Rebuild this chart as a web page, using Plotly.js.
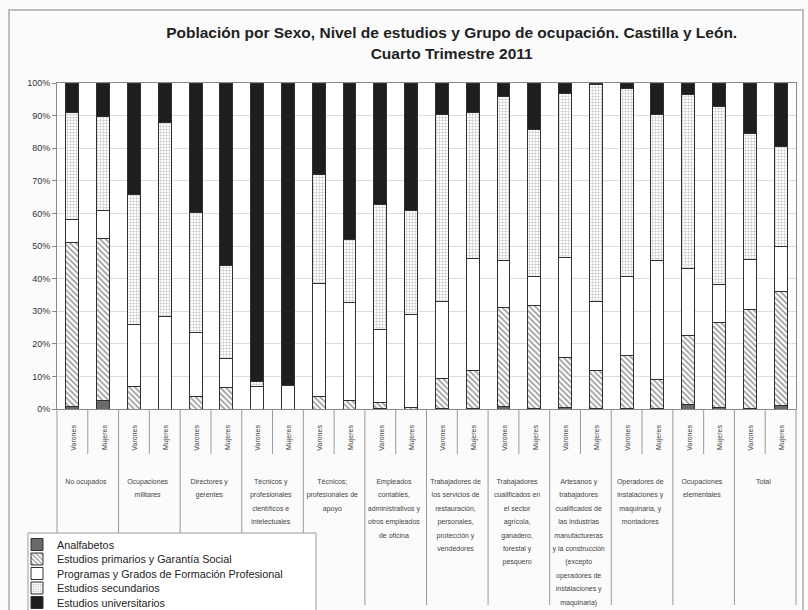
<!DOCTYPE html>
<html>
<head>
<meta charset="utf-8">
<script src="https://cdn.plot.ly/plotly-3.0.1.min.js"></script>
<style>
html,body{margin:0;padding:0;background:#fbfbfb;}
#chart{width:808px;height:610px;}
#frame{position:absolute;left:8px;top:9px;width:792px;height:620px;border:2px solid #bdbdbd;pointer-events:none;}
</style>
</head>
<body>
<div id="chart"></div>
<div id="frame"></div>
<script>
const groups = [
  ["No ocupados"],
  ["Ocupaciones", "militares"],
  ["Directores y", "gerentes"],
  ["Técnicos y", "profesionales", "científicos e", "intelectuales"],
  ["Técnicos;", "profesionales de", "apoyo"],
  ["Empleados", "contables,", "administrativos y", "otros empleados", "de oficina"],
  ["Trabajadores de", "los servicios de", "restauración,", "personales,", "protección y", "vendedores"],
  ["Trabajadores", "cualificados en", "el sector", "agrícola,", "ganadero,", "forestal y", "pesquero"],
  ["Artesanos y", "trabajadores", "cualificados de", "las industrias", "manufactureras", "y la construcción", "(excepto", "operadores de", "instalaciones y", "maquinaria)"],
  ["Operadores de", "instalaciones y", "maquinaria, y", "montadores"],
  ["Ocupaciones", "elementales"],
  ["Total"]
];
const sexes = ["Varones", "Mujeres"];

const seriesNames = [
  "Analfabetos",
  "Estudios primarios y Garantía Social",
  "Programas y Grados de Formación Profesional",
  "Estudios secundarios",
  "Estudios universitarios"
];

const analfabetos   = [0.8,2.6, 0,0, 0,0, 0,0, 0,0, 0.3,0, 0.3,0.3, 0.7,0.3, 0.4,0.3, 0.3,0.2, 1.5,0.4, 0.3,1.2];
const primarios     = [50.2,49.6, 6.9,0, 3.7,6.6, 0,0, 3.9,2.6, 1.7,0.5, 9.1,11.4, 30.5,31.4, 15.3,11.6, 16.1,8.7, 21.1,26.0, 30.3,34.7];
const fp            = [7.2,8.8, 18.9,28.5, 19.8,8.9, 6.9,7.1, 34.6,30.1, 22.3,28.6, 23.5,34.6, 14.4,9.0, 30.8,21.0, 24.1,36.7, 20.6,11.9, 15.3,14.1];
const secundarios   = [32.6,28.6, 40.1,59.5, 36.8,28.6, 1.6,0, 33.5,19.2, 38.3,31.7, 57.5,44.5, 50.2,45.0, 50.4,66.5, 57.9,44.8, 53.4,54.6, 38.6,30.5];
const universitarios= [9.2,10.4, 34.1,12.0, 39.7,55.9, 91.5,92.9, 28.0,48.1, 37.4,39.2, 9.6,9.2, 4.2,14.3, 3.1,0.6, 1.6,9.6, 3.4,7.1, 15.5,19.5];

const yTicks = [0,10,20,30,40,50,60,70,80,90,100];

// small text inside a larger base font so that line spacing is wider than the glyphs
const small = s => '<span style="font-size:7px">' + s + '</span>';
const pad = '&nbsp;'.repeat(12);
const outer = [], inner = [];
groups.forEach(g => {
  const label = g.map(small).join("<br>");
  sexes.forEach(s => { outer.push(label); inner.push(small(pad + s)); });
});
const xcat = [outer, inner];

const styles = [
  {color:"#6a6a6a", pattern:{shape:""}},
  {color:"#ffffff", pattern:{shape:"\\", fgcolor:"#333333", bgcolor:"#ffffff", size:4, solidity:0.4, fillmode:"overlay"}},
  {color:"#ffffff", pattern:{shape:""}},
  {color:"#ffffff", pattern:{shape:"+", fgcolor:"#8a8a8a", bgcolor:"#ffffff", size:3, solidity:0.35, fillmode:"overlay"}},
  {color:"#1e1e1e", pattern:{shape:""}}
];
const values = [analfabetos, primarios, fp, secundarios, universitarios];
const legendIds = values.map((v, i) => i === 0 ? "legend" : "legend" + (i + 1));

const traces = values.map((v, i) => ({
  type: "bar",
  name: seriesNames[i],
  legend: legendIds[i],
  x: xcat,
  y: v,
  marker: {color: styles[i].color, pattern: styles[i].pattern, line: {color: "#303030", width: 1}},
  hoverinfo: "y+name"
}));

// separators in the category area (paper coords derived from category index)
const nCat = outer.length;
const plotH = 326, plotW = 739, plotL = 57, plotB = 409;
const shapes = [];
for (let k = 0; k < groups.length; k++) {
  const xb = (2*k + 1) / nCat;
  shapes.push({type:"line", xref:"paper", yref:"paper", x0:xb, x1:xb, y0:0, y1:-45/plotH,
    line:{color:"#9a9a9a", width:1}});
}
for (let k = 0; k <= groups.length; k++) {
  const xb = (2*k) / nCat;
  shapes.push({type:"line", xref:"paper", yref:"paper", x0:xb, x1:xb, y0:0, y1:-196/plotH,
    line:{color:"#9a9a9a", width:1}});
}
// legend box
shapes.push({type:"rect", xref:"paper", yref:"paper",
  x0:(28-plotL)/plotW, x1:(316-plotL)/plotW, y0:(plotB-533)/plotH, y1:(plotB-650)/plotH,
  fillcolor:"#ffffff", line:{color:"#9a9a9a", width:1}, layer:"above"});

const layout = {
  width: 808, height: 610,
  paper_bgcolor: "#fbfbfb",
  plot_bgcolor: "#ffffff",
  margin: {l:57, r:12, t:83, b:201},
  title: {
    text: "<b>Población por Sexo, Nivel de estudios y Grupo de ocupación. Castilla y León.<br>Cuarto Trimestre 2011</b>",
    font: {family: "Liberation Sans, Arial, sans-serif", size: 15.5, color: "#222"},
    x: 0.559, xanchor: "center", y: 0.937, yanchor: "middle"
  },
  barmode: "stack",
  barnorm: "percent",
  bargap: 0.58,
  showlegend: true,
  xaxis: {
    type: "multicategory",
    automargin: false,
    showgrid: false,
    showline: true, mirror: true, linecolor: "#8a8a8a", linewidth: 1,
    ticks: "",
    tickangle: -90,
    ticklabelstandoff: 11,
    tickfont: {family: "Liberation Sans, Arial, sans-serif", size: 10.3, color: "#444"},
    showdividers: false
  },
  yaxis: {
    range: [0, 100],
    tickvals: yTicks,
    ticktext: yTicks.map(t => t + "%"),
    showgrid: true, gridcolor: "#dcdcdc",
    showline: true, mirror: true, linecolor: "#8a8a8a", linewidth: 1,
    ticks: "outside", ticklen: 4, tickcolor: "#8a8a8a",
    tickfont: {family: "Liberation Sans, Arial, sans-serif", size: 9, color: "#333"},
    zeroline: false
  },
  shapes: shapes
};

// one legend per series so that the rows can sit closer together than a single legend allows
legendIds.forEach((id, i) => {
  layout[id] = {
    xref: "paper", yref: "container",
    x: (17-plotL)/plotW, xanchor: "left",
    y: (610 - (530 + 14.5*i))/610, yanchor: "top",
    bgcolor: "rgba(0,0,0,0)", borderwidth: 0,
    font: {family: "Liberation Sans, Arial, sans-serif", size: 10.8, color: "#222"},
    itemwidth: 30
  };
});

Plotly.newPlot("chart", traces, layout, {displayModeBar: false, staticPlot: true});
</script>
</body>
</html>
